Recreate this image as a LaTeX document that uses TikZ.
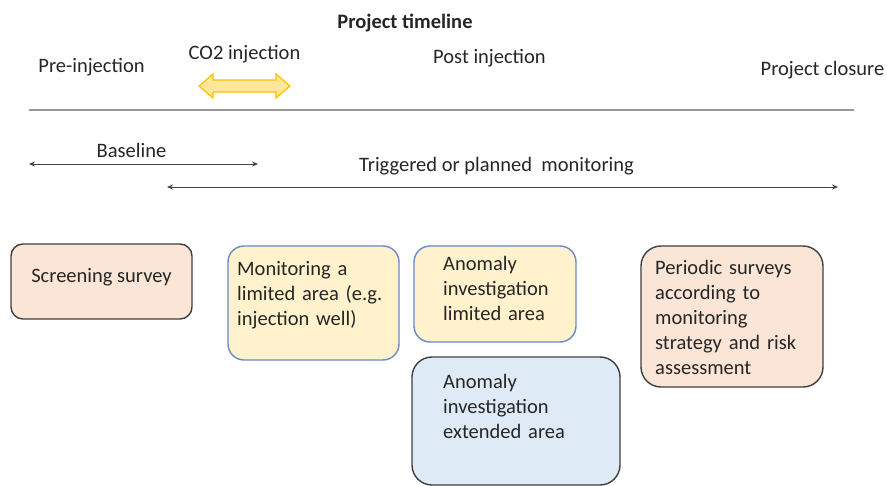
\documentclass[tikz,border=0pt]{standalone}
\usepackage{fontspec}
\setmainfont{Carlito}
\usetikzlibrary{arrows.meta}
\definecolor{peach}{HTML}{FBE5D6}
\definecolor{lyellow}{HTML}{FFF2CC}
\definecolor{lblue}{HTML}{DEEBF7}
\definecolor{bblue}{HTML}{6A8AC4}
\definecolor{dborder}{HTML}{404040}
\definecolor{arrfill}{HTML}{FFE699}
\definecolor{arrline}{HTML}{FFC000}
\begin{document}
\begin{tikzpicture}[x=1pt,y=-1pt,
  every node/.style={font=\fontsize{20.5}{25}\selectfont, text=black!85},
  box/.style={draw, line width=1.4pt, rounded corners=16pt, inner sep=0pt},
  peachbox/.style={box, fill=peach, draw=dborder},
  yelbox/.style={box, fill=lyellow, draw=bblue},
  bluebox/.style={box, fill=lblue, draw=dborder},
  lbl/.style={anchor=base west, inner sep=0pt, align=left, text width=#1},
  toplbl/.style={anchor=base, inner sep=0pt},
  tarrow/.style={line width=0.8pt, draw=black!75, {Stealth[length=6pt,width=5pt]}-{Stealth[length=6pt,width=5pt]}}
]
\useasboundingbox (0,0) rectangle (887,486);
\fill[white] (0,0) rectangle (887,486);

% top labels
\node[toplbl, font=\fontsize{20.5}{25}\selectfont\bfseries] (title) at (405,29) {Project timeline};
\node[toplbl] (pre) at (91.5,73) {Pre-injection};
\node[toplbl] (co2) at (244.5,60) {CO2 injection};
\node[toplbl] (post) at (489.5,64) {Post injection};
\node[toplbl] (closure) at (822.5,76) {Project closure};

% yellow double arrow
\draw[fill=arrfill, draw=arrline, line width=1.2pt, line join=miter]
  (199,86) -- (213,74) -- (213,80) -- (276,80) -- (276,74) -- (290,86)
  -- (276,98) -- (276,92) -- (213,92) -- (213,98) -- cycle;

% gray timeline
\coordinate (gl) at (29,110);
\coordinate (gr) at (854,110);
\draw[draw=black!40, line width=1.4pt] (gl) -- (gr);

% baseline
\node[toplbl] (baseline) at (131.5,158) {Baseline};
\coordinate (bl) at (29,164);
\coordinate (br) at (258,164);
\draw[tarrow] (bl) -- (br);

% triggered
\node[toplbl] (trig) at (496.5,172) {Triggered or planned\ \ monitoring};
\coordinate (tl) at (167,187);
\coordinate (tr) at (838,187);
\draw[tarrow] (tl) -- (tr);

% boxes
\node[peachbox, minimum width=181pt, minimum height=75pt, rounded corners=12pt] (screen) at (101.5,281.5) {};
\node[anchor=base, inner sep=0pt] (screent) at (101.5,283) {Screening survey};

\node[yelbox, minimum width=171pt, minimum height=114pt] (mon) at (313.5,303) {};
\node[lbl=160pt] (mont) at (237,276) {Monitoring a\\limited area (e.g.\\injection well)};

\node[yelbox, minimum width=162pt, minimum height=96pt] (anl) at (495,294) {};
\node[lbl=130pt] (anlt) at (443,271) {Anomaly\\investigation\\limited area};

\node[bluebox, minimum width=208pt, minimum height=128pt, rounded corners=20pt] (ane) at (516,421) {};
\node[lbl=170pt] (anet) at (443,389) {Anomaly\\investigation\\extended area};

\node[peachbox, minimum width=182pt, minimum height=141pt, rounded corners=20pt] (per) at (732,316.5) {};
\node[lbl=165pt] (pert) at (655,275) {Periodic surveys\\according to\\monitoring\\strategy and risk\\assessment};
\end{tikzpicture}
\end{document}
